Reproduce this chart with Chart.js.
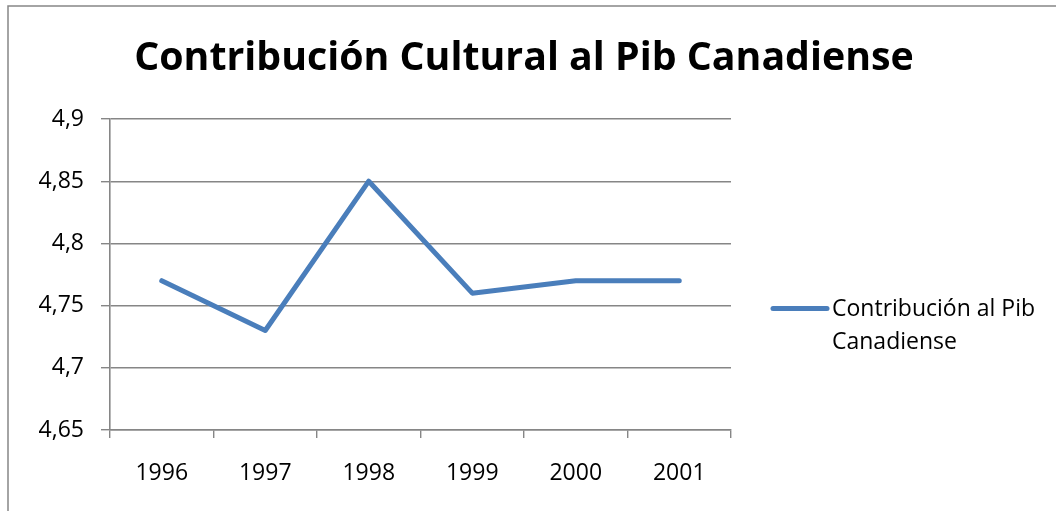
<!DOCTYPE html>
<html>
<head>
<meta charset="utf-8">
<script src="https://cdn.jsdelivr.net/npm/chart.js@4/dist/chart.umd.min.js"></script>
<style>
html,body{margin:0;padding:0;background:#fff;}
#wrap{width:1056px;height:511px;position:relative;}
</style>
</head>
<body>
<div id="wrap"><canvas id="c" width="1056" height="511"></canvas></div>
<script>
const titleText = 'Contribución Cultural al Pib Canadiense';
const categories = ['1996', '1997', '1998', '1999', '2000', '2001'];
const seriesName = 'Contribución al Pib Canadiense';
const seriesLegendLines = ['Contribución al Pib', 'Canadiense'];
const seriesValues = [4.77, 4.73, 4.85, 4.76, 4.77, 4.77];
const yMin = 4.65, yMax = 4.9, yStep = 0.05;

const FONT = '"Open Sans", "Liberation Sans", sans-serif';
const GRID = '#868686';
const LINE = '#4A7EBB';

const framePlugin = {
  id: 'frame',
  beforeDraw(chart) {
    const ctx = chart.ctx;
    ctx.save();
    ctx.fillStyle = '#fff';
    ctx.fillRect(0, 0, chart.width, chart.height);
    ctx.strokeStyle = GRID;
    ctx.lineWidth = 1.5;
    ctx.beginPath();
    ctx.moveTo(8, chart.height + 5);
    ctx.lineTo(8, 6);
    ctx.lineTo(chart.width + 5, 6);
    ctx.stroke();
    ctx.restore();
  }
};

const titlePlugin = {
  id: 'centerTitle',
  afterDraw(chart) {
    const ctx = chart.ctx;
    ctx.save();
    ctx.fillStyle = '#000';
    ctx.font = 'bold 39.3px ' + FONT;
    ctx.textAlign = 'center';
    ctx.textBaseline = 'alphabetic';
    ctx.fillText(titleText, 524, 70);
    ctx.restore();
  }
};

const legendPlugin = {
  id: 'sideLegend',
  afterDraw(chart) {
    const ctx = chart.ctx;
    const ds = chart.data.datasets[0];
    const x0 = chart.chartArea.right + 42;
    const y0 = (chart.chartArea.top + chart.chartArea.bottom) / 2 + 34;
    ctx.save();
    ctx.strokeStyle = ds.borderColor;
    ctx.lineWidth = ds.borderWidth;
    ctx.lineCap = 'round';
    ctx.beginPath();
    ctx.moveTo(x0, y0);
    ctx.lineTo(x0 + 54, y0);
    ctx.stroke();
    ctx.fillStyle = '#000';
    ctx.font = '23px ' + FONT;
    ctx.textBaseline = 'middle';
    ctx.textAlign = 'left';
    seriesLegendLines.forEach((t, i) => ctx.fillText(t, x0 + 59, y0 + 1 + i * 33));
    ctx.restore();
  }
};

new Chart(document.getElementById('c'), {
  type: 'line',
  data: {
    labels: categories,
    datasets: [{
      label: seriesName,
      data: seriesValues,
      borderColor: LINE,
      backgroundColor: LINE,
      borderWidth: 5,
      pointRadius: 0,
      pointHoverRadius: 0,
      tension: 0,
      borderCapStyle: 'round',
      borderJoinStyle: 'round',
      fill: false
    }]
  },
  options: {
    responsive: false,
    animation: false,
    devicePixelRatio: 1,
    layout: { padding: { left: 0, right: 325, top: 119, bottom: 0 } },
    plugins: {
      legend: { display: false },
      tooltip: { enabled: false },
      title: { display: false }
    },
    scales: {
      x: {
        offset: true,
        grid: { offset: true, drawOnChartArea: false, drawTicks: true, tickLength: 8, color: GRID, lineWidth: 1.4 },
        border: { display: true, color: GRID, width: 1.4 },
        ticks: { color: '#000', padding: 22, font: { family: FONT, size: 23 }, maxRotation: 0 },
        afterFit(s) { s.height = 81; }
      },
      y: {
        min: yMin,
        max: yMax,
        grid: { color: GRID, lineWidth: 1.4, drawTicks: true, tickLength: 9 },
        border: { display: true, color: GRID, width: 1.6 },
        ticks: {
          stepSize: yStep,
          color: '#000',
          padding: 17,
          font: { family: FONT, size: 23 },
          callback: v => String(Math.round(v * 100) / 100).replace('.', ',')
        },
        afterFit(s) { s.width = 110; }
      }
    }
  },
  plugins: [framePlugin, titlePlugin, legendPlugin]
});
</script>
</body>
</html>
